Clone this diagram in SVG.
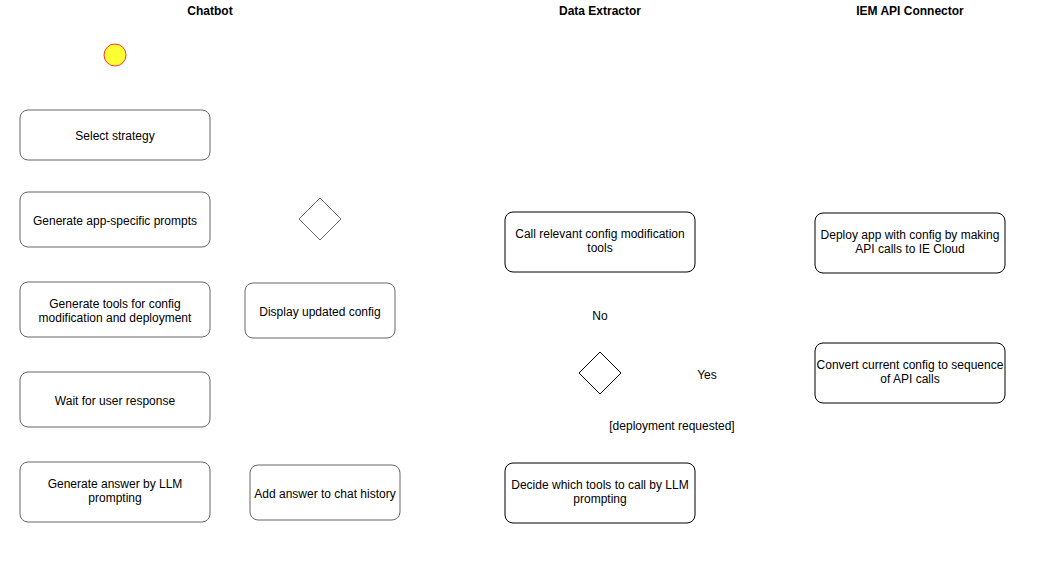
<svg xmlns="http://www.w3.org/2000/svg" width="1051" height="571" viewBox="0 0 1051 571">
<style>
text{font-family:"Liberation Sans",Arial,Helvetica,sans-serif;font-size:12px;fill:#000;text-anchor:middle}
.title{font-weight:bold}
.g{fill:#fff;stroke:#666;stroke-width:1}
.b{fill:#fff;stroke:#000;stroke-width:1}
</style>
<rect width="1051" height="571" fill="#fff"/>
<g id="titles">
<text class="title" x="210" y="15">Chatbot</text>
<text class="title" x="600" y="15">Data Extractor</text>
<text class="title" x="910" y="15">IEM API Connector</text>
</g>
<g id="connectors"></g>
<g id="start"><circle cx="115" cy="55" r="11" fill="#ffff33" stroke="#ff3333" stroke-width="1"/></g>
<g id="select"><rect class="g" x="20" y="110" width="190" height="50" rx="8"/><text x="115" y="140">Select strategy</text></g>
<g id="prompts"><rect class="g" x="20" y="192" width="190" height="55" rx="8"/><text x="115" y="225">Generate app-specific prompts</text></g>
<g id="tools"><rect class="g" x="20" y="282" width="190" height="55" rx="8"/><text x="115" y="308">Generate tools for config</text><text x="115" y="322">modification and deployment</text></g>
<g id="wait"><rect class="g" x="20" y="372" width="190" height="55" rx="8"/><text x="115" y="405">Wait for user response</text></g>
<g id="answer"><rect class="g" x="20" y="462" width="190" height="60" rx="8"/><text x="115" y="488">Generate answer by LLM</text><text x="115" y="502">prompting</text></g>
<g id="decision1"><polygon class="g" points="320,198 341,219 320,240 299,219"/></g>
<g id="display"><rect class="g" x="245" y="283" width="150" height="55" rx="8"/><text x="320" y="316">Display updated config</text></g>
<g id="history"><rect class="g" x="250" y="465" width="150" height="55" rx="8"/><text x="325" y="498">Add answer to chat history</text></g>
<g id="callTools"><rect class="b" x="505" y="212" width="190" height="60" rx="8"/><text x="600" y="238">Call relevant config modification</text><text x="600" y="252">tools</text></g>
<g id="decision2"><polygon class="b" points="600,352 621,373 600,394 579,373"/></g>
<g id="decide"><rect class="b" x="505" y="463" width="190" height="60" rx="8"/><text x="600" y="489">Decide which tools to call by LLM</text><text x="600" y="503">prompting</text></g>
<g id="deploy"><rect class="b" x="815" y="213" width="190" height="60" rx="8"/><text x="910" y="239">Deploy app with config by making</text><text x="910" y="253">API calls to IE Cloud</text></g>
<g id="convert"><rect class="b" x="815" y="343" width="190" height="60" rx="8"/><text x="910" y="369">Convert current config to sequence</text><text x="910" y="383">of API calls</text></g>
<g id="labels">
<text x="600" y="320">No</text>
<text x="707" y="379">Yes</text>
<text x="672" y="430">[deployment requested]</text>
</g>
</svg>
